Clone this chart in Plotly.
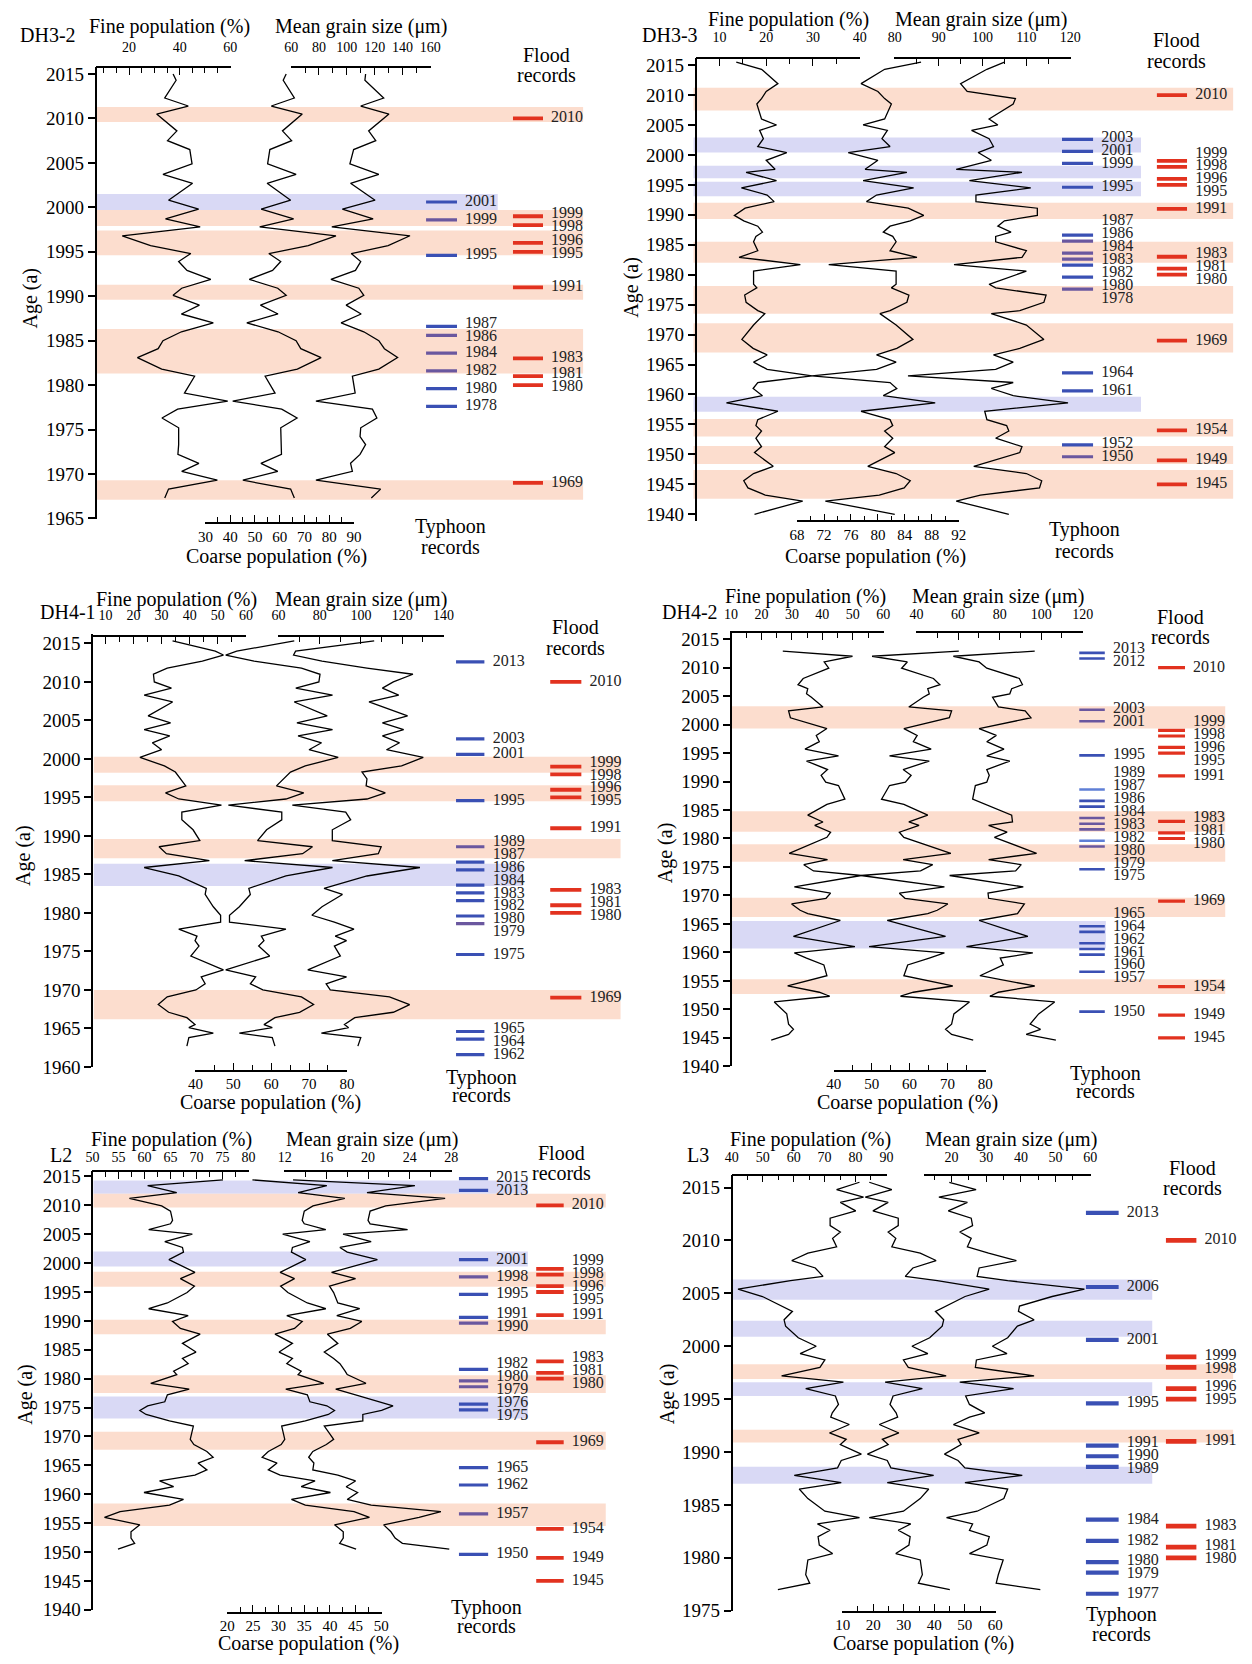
import plotly.graph_objects as go

W, H = 1252, 1664
FONT = "Liberation Serif, Times New Roman, serif"

# ---------------- DATA ----------------
# DH3-2
DH32_AGE = [2015.0, 2014.3, 2012.3, 2011.4, 2010.5, 2008.6, 2007.5, 2006.5, 2004.9, 2003.7,
            2002.7, 2000.8, 1999.8, 1998.7, 1997.8, 1996.8, 1995.7, 1994.8, 1993.9, 1992.9,
            1991.9, 1990.9, 1990.1, 1989.0, 1988.0, 1987.0, 1986.0, 1985.0, 1984.1, 1983.1,
            1981.8, 1981.0, 1979.1, 1978.2, 1977.3, 1976.3, 1975.2, 1974.2, 1973.3, 1972.2,
            1971.2, 1970.3, 1969.3, 1968.3, 1967.3]
DH32_FINE = [37.4, 38.6, 34.1, 43.4, 30.9, 38.9, 35.2, 44.0, 44.9, 33.4,
             45.1, 35.6, 47.5, 34.4, 48.1, 17.3, 28.5, 44.4, 39.6, 42.9,
             52.3, 40.8, 37.4, 47.8, 40.7, 53.3, 40.7, 33.4, 31.5, 23.3,
             32.9, 45.9, 41.9, 59.0, 39.2, 33.0, 39.6, 39.6, 39.6, 39.3,
             47.6, 40.8, 54.9, 35.6, 34.1]
DH32_COARSE = [62.6, 61.4, 65.9, 56.6, 69.1, 61.1, 64.8, 56.0, 55.1, 66.6,
               54.9, 64.4, 52.5, 65.6, 51.9, 82.7, 71.5, 55.6, 60.4, 57.1,
               47.7, 59.2, 62.6, 52.2, 59.3, 46.7, 59.3, 66.6, 68.5, 76.7,
               67.1, 54.1, 58.1, 41.0, 60.8, 67.0, 60.4, 60.4, 60.4, 60.7,
               52.4, 59.2, 45.1, 64.4, 65.9]
DH32_MGS = [113.5, 113.0, 126.5, 110.0, 130.3, 115.7, 120.8, 104.9, 102.2, 123.0,
            102.7, 120.3, 96.8, 118.9, 89.2, 145.4, 129.7, 103.2, 110.0, 106.2,
            88.6, 108.6, 112.2, 99.5, 110.3, 95.9, 112.2, 123.0, 127.0, 136.5,
            123.0, 104.0, 106.0, 77.8, 118.4, 121.6, 110.0, 109.5, 113.5, 109.5,
            102.7, 104.0, 77.8, 124.3, 117.6]
DH32_TY = [2001, 1999, 1995, 1987, 1986, 1984, 1982, 1980, 1978]
DH32_TYC = ["b", "p", "b", "b", "p", "p", "p", "b", "b"]
DH32_FL = [2010, 1999, 1998, 1996, 1995, 1991, 1983, 1981, 1980, 1969]
DH32_BANDS = [(2009.6, 2011.3, "o"), (1999.7, 2001.5, "b"), (1997.9, 1999.7, "o"),
              (1994.6, 1997.4, "o"), (1989.6, 1991.3, "o"), (1981.3, 1986.3, "o"),
              (1967.1, 1969.3, "o")]

# DH3-3
DH33_AGE = [2015.5, 2014.3, 2011.9, 2010.6, 2009.4, 2008.5, 2006.0, 2005.0, 2004.1, 2002.7,
            2001.4, 2000.4, 1999.1, 1997.6, 1997.1, 1995.7, 1994.5, 1993.3, 1992.2, 1991.1,
            1989.9, 1989.0, 1988.1, 1987.1, 1986.4, 1985.5, 1984.0, 1982.9, 1981.7, 1980.6,
            1978.4, 1977.8, 1976.6, 1975.4, 1974.0, 1973.5, 1971.6, 1969.2, 1967.7, 1966.6,
            1965.4, 1964.2, 1963.1, 1962.0, 1961.0, 1959.8, 1958.6, 1957.2, 1955.8, 1954.8,
            1953.9, 1952.7, 1951.3, 1950.3, 1948.0, 1946.8, 1945.6, 1944.4, 1943.2, 1942.2,
            1940.0]
DH33_FINE = [13.6, 19.0, 22.5, 20.0, 19.0, 18.0, 19.0, 22.2, 18.6, 19.4,
             18.2, 24.4, 20.0, 21.9, 15.7, 22.2, 14.7, 20.2, 21.7, 15.5,
             13.2, 15.2, 18.2, 19.2, 17.8, 17.3, 18.2, 14.2, 27.3, 17.3,
             17.3, 18.0, 15.4, 15.7, 18.2, 19.7, 17.3, 14.8, 17.2, 20.2,
             17.3, 20.2, 29.8, 18.2, 17.2, 19.2, 11.5, 22.5, 18.2, 17.8,
             19.0, 17.8, 19.0, 17.5, 21.5, 17.3, 15.2, 16.1, 19.8, 27.8,
             17.5]
DH33_COARSE = [86.4, 81.0, 77.5, 80.0, 81.0, 82.0, 81.0, 77.8, 81.4, 80.6,
               81.8, 75.6, 80.0, 78.1, 84.3, 77.8, 85.3, 79.8, 78.3, 84.5,
               86.8, 84.8, 81.8, 80.8, 82.2, 82.7, 81.8, 85.8, 72.7, 82.7,
               82.7, 82.0, 84.6, 84.3, 81.8, 80.3, 82.7, 85.2, 82.8, 79.8,
               82.7, 79.8, 70.2, 81.8, 82.8, 80.8, 88.5, 77.5, 81.8, 82.2,
               81.0, 82.2, 81.0, 82.5, 78.5, 82.7, 84.8, 83.9, 80.2, 72.2,
               82.5]
DH33_MGS = [105.0, 101.0, 95.0, 96.5, 107.5, 107.0, 101.5, 103.5, 97.5, 101.5,
            102.5, 99.0, 102.0, 94.0, 109.0, 97.0, 111.0, 98.5, 98.5, 112.5,
            112.5, 105.0, 103.5, 106.5, 103.0, 103.0, 110.0, 109.0, 93.5, 110.0,
            101.5, 103.0, 114.5, 114.0, 108.5, 102.0, 110.0, 114.0, 108.5, 102.5,
            107.0, 103.0, 83.0, 107.0, 102.0, 107.0, 119.5, 100.5, 101.0, 105.5,
            106.0, 103.0, 109.0, 108.5, 98.0, 110.0, 113.5, 113.0, 99.5, 94.0,
            106.0]
DH33_TY = [2003, 2001, 1999, 1995, 1987, 1986, 1984, 1983, 1982, 1980, 1978, 1964, 1961, 1952, 1950]
DH33_TYC = ["b", "b", "b", "b", "b", "p", "p", "p", "b", "b", "p", "b", "b", "b", "p"]
DH33_FL = [2010, 1999, 1998, 1996, 1995, 1991, 1983, 1981, 1980, 1969, 1954, 1949, 1945]
DH33_BANDS = [(2007.4, 2011.2, "o"), (2000.4, 2002.9, "b"), (1996.1, 1998.2, "b"),
              (1993.1, 1995.5, "b"), (1989.3, 1992.0, "o"), (1982.0, 1985.5, "o"),
              (1973.5, 1978.1, "o"), (1967.0, 1971.9, "o"), (1957.1, 1959.6, "b"),
              (1953.0, 1955.9, "o"), (1948.4, 1951.4, "o"), (1942.6, 1947.4, "o")]

# DH4-1
DH41_AGE = [2015.35, 2014.0, 2013.5, 2012.7, 2011.8, 2011.0, 2010.0, 2009.2, 2008.3, 2007.4,
            2005.6, 2004.7, 2003.8, 2003.0, 2002.1, 2001.2, 2000.2, 1999.1, 1998.3, 1997.4,
            1996.5, 1995.6, 1994.8, 1994.0, 1993.1, 1992.1, 1990.8, 1989.4, 1988.6, 1987.7,
            1986.8, 1985.9, 1984.8, 1983.2, 1982.4, 1980.8, 1979.7, 1978.8, 1977.9, 1977.0,
            1976.4, 1975.7, 1974.4, 1972.6, 1971.7, 1970.8, 1970.0, 1969.1, 1968.1, 1967.1,
            1966.4, 1965.5, 1965.1, 1964.4, 1963.8, 1962.7]
DH41_FINE = [33.9, 49.1, 52.0, 44.5, 32.0, 27.1, 27.4, 33.5, 23.8, 33.9,
             25.2, 33.2, 23.8, 32.9, 26.7, 30.0, 22.3, 31.0, 34.9, 36.8,
             38.6, 31.4, 36.1, 51.3, 37.2, 37.2, 41.2, 43.6, 29.1, 31.7,
             47.0, 23.8, 36.1, 45.9, 45.5, 48.4, 51.0, 51.0, 36.1, 42.6,
             41.9, 43.3, 40.4, 52.0, 44.1, 45.5, 42.2, 32.0, 28.8, 32.5,
             39.0, 41.9, 39.7, 48.4, 39.7, 39.0]
DH41_COARSE = [66.1, 50.9, 48.0, 55.5, 68.0, 72.9, 72.6, 66.5, 76.2, 66.1,
               74.8, 66.8, 76.2, 67.1, 73.3, 70.0, 77.7, 69.0, 65.1, 63.2,
               61.4, 68.6, 63.9, 48.7, 62.8, 62.8, 58.8, 56.4, 70.9, 68.3,
               53.0, 76.2, 63.9, 54.1, 54.5, 51.6, 49.0, 49.0, 63.9, 57.4,
               58.1, 56.7, 59.6, 48.0, 55.9, 54.5, 57.8, 68.0, 71.2, 67.5,
               61.0, 58.1, 60.3, 51.6, 60.3, 61.0]
DH41_MGS = [106.4, 68.3, 67.3, 81.1, 102.9, 125.2, 115.7, 110.4, 118.3, 103.9,
            122.6, 110.4, 120.7, 110.4, 118.7, 112.4, 130.2, 119.7, 100.5, 102.9,
            102.5, 111.8, 102.9, 66.7, 92.6, 95.0, 86.1, 86.1, 109.8, 108.4,
            86.1, 128.6, 102.9, 82.1, 91.0, 81.1, 76.2, 87.1, 96.6, 87.5,
            93.0, 87.1, 90.0, 74.2, 93.0, 83.1, 85.1, 113.8, 123.6, 115.7,
            97.0, 92.0, 94.0, 80.8, 99.9, 98.5]
DH41_TY = [2013, 2003, 2001, 1995, 1989, 1987, 1986, 1984, 1983, 1982, 1980, 1979, 1975, 1965, 1964, 1962]
DH41_TYC = ["b", "b", "b", "b", "p", "b", "b", "b", "b", "b", "b", "p", "b", "b", "b", "b"]
DH41_FL = [2010, 1999, 1998, 1996, 1995, 1991, 1983, 1981, 1980, 1969]
DH41_BANDS = [(1998.2, 2000.3, "o"), (1994.5, 1996.6, "o"), (1987.1, 1989.6, "o"),
              (1983.5, 1986.4, "b"), (1966.2, 1970.0, "o")]

# DH4-2
DH42_AGE = [2012.9, 2012.0, 2011.0, 2009.9, 2008.1, 2007.0, 2006.3, 2005.4, 2004.8, 2003.1,
            2002.4, 2001.2, 1999.3, 1998.1, 1997.0, 1995.7, 1994.5, 1993.6, 1992.1, 1991.1,
            1989.9, 1989.3, 1986.9, 1986.0, 1984.1, 1982.9, 1982.3, 1981.1, 1980.2, 1977.4,
            1976.3, 1975.4, 1974.3, 1973.5, 1971.5, 1970.4, 1969.5, 1968.5, 1967.4, 1966.8,
            1965.6, 1962.8, 1961.0, 1959.9, 1959.0, 1957.8, 1955.9, 1954.1, 1953.0, 1952.3,
            1951.3, 1949.2, 1947.4, 1946.5, 1945.6, 1944.6]
DH42_FINE = [27.0, 49.9, 40.6, 42.1, 33.7, 32.0, 35.2, 34.8, 36.4, 40.2,
             28.9, 29.5, 41.5, 38.0, 39.0, 34.3, 45.3, 34.8, 41.7, 39.6,
             41.1, 45.3, 47.4, 41.5, 35.2, 40.2, 37.5, 42.7, 41.5, 29.1,
             41.7, 33.9, 37.1, 52.8, 30.8, 42.7, 41.2, 29.9, 32.7, 35.2,
             45.9, 30.5, 50.7, 30.8, 34.8, 40.5, 41.5, 28.6, 39.0, 42.4,
             24.2, 28.3, 28.9, 30.5, 28.9, 23.2]
DH42_COARSE = [73.0, 50.1, 59.4, 57.9, 66.3, 68.0, 64.8, 65.2, 63.6, 59.8,
               71.1, 70.5, 58.5, 62.0, 61.0, 65.7, 54.7, 65.2, 58.3, 60.4,
               58.9, 54.7, 52.6, 58.5, 64.8, 59.8, 62.5, 57.3, 58.5, 70.9,
               58.3, 66.1, 62.9, 47.2, 69.2, 57.3, 58.8, 70.1, 67.3, 64.8,
               54.1, 69.5, 49.3, 69.2, 65.2, 59.5, 58.5, 71.4, 61.0, 57.6,
               75.8, 71.7, 71.1, 69.5, 71.1, 76.8]
DH42_MGS = [96.9, 57.7, 70.1, 73.8, 89.5, 91.0, 85.8, 84.9, 76.6, 79.4,
            92.3, 95.1, 70.1, 78.4, 73.8, 82.1, 73.8, 84.9, 73.8, 75.0,
            73.8, 68.3, 67.0, 72.9, 85.8, 86.2, 74.7, 83.6, 77.5, 97.8,
            74.7, 90.4, 87.7, 55.9, 91.4, 74.4, 74.7, 91.9, 89.5, 88.6,
            70.1, 93.6, 64.0, 96.0, 80.3, 81.8, 70.5, 96.9, 79.4, 75.3,
            106.5, 98.8, 94.7, 99.7, 92.8, 107.1]
DH42_TY = [2013, 2012, 2003, 2001, 1995, 1989, 1987, 1986, 1984, 1983, 1982, 1980, 1979, 1975,
           1965, 1964, 1962, 1961, 1960, 1957, 1950]
DH42_TYC = ["b", "b", "p", "p", "b", "l", "b", "b", "p", "p", "p", "l", "p", "b",
            "b", "b", "b", "b", "b", "b", "b"]
DH42_FL = [2010, 1999, 1998, 1996, 1995, 1991, 1983, 1981, 1980, 1969, 1954, 1949, 1945]
DH42_BANDS = [(1999.3, 2003.2, "o"), (1981.2, 1984.8, "o"), (1975.9, 1979.0, "o"),
              (1966.2, 1969.6, "o"), (1960.7, 1965.5, "b"), (1952.7, 1955.3, "o")]

# L2
L2_AGE = [2014.4, 2013.4, 2012.2, 2011.2, 2009.9, 2009.0, 2007.4, 2006.8, 2005.8, 2005.0,
          2003.7, 2002.7, 2001.9, 2000.6, 1998.4, 1997.3, 1996.0, 1994.9, 1993.1, 1992.1,
          1990.9, 1989.9, 1988.7, 1987.7, 1986.1, 1984.6, 1983.5, 1982.6, 1981.3, 1980.7,
          1979.2, 1978.2, 1977.2, 1976.0, 1975.3, 1974.5, 1973.8, 1972.7, 1971.8, 1969.5,
          1968.6, 1967.4, 1966.4, 1965.4, 1964.2, 1963.3, 1962.3, 1961.3, 1960.3, 1959.1,
          1958.1, 1957.0, 1956.0, 1954.7, 1953.5, 1952.4, 1951.5, 1950.5]
L2_FINE = [75.1, 60.6, 66.2, 57.1, 63.3, 65.0, 65.4, 65.0, 60.8, 69.2,
           63.9, 67.3, 67.5, 64.7, 69.7, 66.9, 69.6, 68.2, 64.4, 60.8,
           68.4, 65.4, 66.9, 70.7, 67.3, 69.9, 67.3, 68.4, 65.6, 66.2,
           61.2, 68.6, 64.4, 63.9, 60.6, 59.1, 60.3, 64.8, 69.4, 68.8,
           69.5, 72.0, 73.2, 70.3, 72.0, 69.7, 62.9, 65.6, 59.9, 67.5,
           64.8, 55.3, 52.3, 59.1, 57.4, 57.4, 58.1, 54.9]
L2_COARSE = [24.9, 39.4, 33.8, 42.9, 36.7, 35.0, 34.6, 35.0, 39.2, 30.8,
             36.1, 32.7, 32.5, 35.3, 30.3, 33.1, 30.4, 31.8, 35.6, 39.2,
             31.6, 34.6, 33.1, 29.3, 32.7, 30.1, 32.7, 31.6, 34.4, 33.8,
             38.8, 31.4, 35.6, 36.1, 39.4, 40.9, 39.7, 35.2, 30.6, 31.2,
             30.5, 28.0, 26.8, 29.7, 28.0, 30.3, 37.1, 34.4, 40.1, 32.5,
             35.2, 44.7, 47.7, 40.9, 42.6, 42.6, 41.9, 45.1]
L2_MGS = [12.8, 24.5, 19.9, 27.4, 21.7, 20.2, 20.0, 20.2, 23.8, 17.6,
          20.3, 17.3, 18.0, 20.9, 16.5, 18.8, 16.3, 16.7, 17.1, 19.2,
          17.0, 19.4, 18.3, 16.1, 17.1, 15.8, 16.7, 17.3, 17.8, 18.0,
          19.8, 16.9, 18.8, 21.1, 22.4, 21.3, 19.5, 19.5, 15.8, 16.7,
          16.0, 14.7, 14.3, 14.8, 14.7, 17.1, 18.8, 17.9, 19.0, 18.0,
          20.3, 27.0, 24.9, 21.5, 22.2, 22.6, 23.3, 27.8]
L2_TY = [2015, 2013, 2001, 1998, 1995, 1991, 1990, 1982, 1980, 1979, 1976, 1975, 1965, 1962, 1957, 1950]
L2_TYC = ["b", "b", "b", "p", "b", "b", "p", "b", "p", "p", "b", "b", "b", "b", "p", "b"]
L2_FL = [2010, 1999, 1998, 1996, 1995, 1991, 1983, 1981, 1980, 1969, 1954, 1949, 1945]
L2_BANDS = [(2012.0, 2014.3, "b"), (2009.6, 2012.0, "o"), (1999.4, 2002.0, "b"),
            (1995.9, 1998.5, "o"), (1987.7, 1990.2, "o"), (1977.5, 1980.6, "o"),
            (1973.1, 1976.9, "b"), (1967.7, 1970.8, "o"), (1954.5, 1958.4, "o")]

# L3
L3_AGE = [2015.5, 2014.8, 2014.1, 2013.6, 2012.8, 2012.1, 2011.4, 2010.8, 2010.2, 2009.4,
          2008.8, 2008.1, 2007.4, 2006.6, 2006.2, 2005.4, 2004.7, 2003.8, 2003.3, 2002.5,
          2001.9, 2000.8, 2000.0, 1999.3, 1998.7, 1998.0, 1997.2, 1996.6, 1996.0, 1995.3,
          1994.5, 1993.7, 1993.3, 1992.6, 1991.8, 1991.2, 1990.7, 1989.8, 1989.2, 1988.5,
          1987.8, 1987.1, 1986.5, 1985.6, 1984.4, 1983.8, 1983.2, 1982.6, 1982.0, 1981.2,
          1980.4, 1979.8, 1978.4, 1977.6, 1977.0]
L3_FINE = [81.3, 73.9, 82.6, 75.1, 80.1, 71.8, 71.8, 75.1, 72.6, 73.9,
           64.6, 59.4, 67.0, 69.5, 59.0, 42.0, 49.9, 56.5, 59.6, 56.9,
           57.4, 61.5, 67.3, 62.1, 70.1, 68.5, 56.1, 76.1, 63.9, 73.5,
           74.5, 72.5, 72.0, 78.0, 71.6, 77.0, 75.1, 81.9, 75.4, 74.2,
           60.2, 75.4, 61.8, 64.6, 70.1, 81.3, 67.7, 71.8, 67.9, 68.3,
           72.6, 64.6, 63.9, 65.2, 54.9]
L3_COARSE = [18.7, 26.1, 17.4, 24.9, 19.9, 28.2, 28.2, 24.9, 27.4, 26.1,
             35.4, 40.6, 33.0, 30.5, 41.0, 58.0, 50.1, 43.5, 40.4, 43.1,
             42.6, 38.5, 32.7, 37.9, 29.9, 31.5, 43.9, 23.9, 36.1, 26.5,
             25.5, 27.5, 28.0, 22.0, 28.4, 23.0, 24.9, 18.1, 24.6, 25.8,
             39.8, 24.6, 38.2, 35.4, 29.9, 18.7, 32.3, 28.2, 32.1, 31.7,
             27.4, 35.4, 36.1, 34.8, 45.1]
L3_MGS = [19.4, 27.1, 16.4, 24.6, 19.1, 25.7, 26.1, 22.4, 25.7, 24.6,
          30.7, 38.7, 28.0, 27.4, 36.2, 58.3, 49.0, 39.6, 39.3, 43.8,
          39.0, 36.2, 31.8, 36.0, 27.2, 26.9, 43.8, 22.4, 37.9, 24.1,
          25.2, 29.6, 25.2, 20.6, 28.0, 21.9, 22.8, 18.0, 21.9, 23.9,
          40.4, 23.9, 36.2, 35.1, 27.4, 18.6, 26.1, 25.2, 30.9, 30.2,
          25.2, 34.9, 33.5, 32.9, 45.6]
L3_TY = [2013, 2006, 2001, 1995, 1991, 1990, 1989, 1984, 1982, 1980, 1979, 1977]
L3_TYC = ["b"] * 12
L3_FL = [2010, 1999, 1998, 1996, 1995, 1991, 1983, 1981, 1980]
L3_BANDS = [(2004.4, 2006.3, "b"), (2000.9, 2002.4, "b"), (1996.9, 1998.3, "o"),
            (1995.3, 1996.6, "b"), (1990.9, 1992.1, "o"), (1987.0, 1988.6, "b")]

# ---------------- STYLE / LAYOUT ----------------
TY_COLORS = {"b": "#3a50b4", "p": "#6a579f", "l": "#5f7fd6"}
FLOOD_COLOR = "#e2321f"
BAND_COLORS = {"o": "rgba(252,215,197,0.85)", "b": "rgba(215,215,244,0.95)"}
TY_OFFSET = -0.4
LABEL_GAP_PX = 13.0
LABEL_SIZE = 16
PAD = "\u00a0\u00a0"

PANELS = [
    dict(name="DH3-2", age=DH32_AGE, fine=DH32_FINE, coarse=DH32_COARSE, mgs=DH32_MGS,
         ty=DH32_TY, tyc=DH32_TYC, fl=DH32_FL, bands=DH32_BANDS,
         yx=89.9, ytop=62.5, ybot=518.6, yr=[1965, 2015.8], tso=9,
         fineax=dict(dom=[89.9, 226.6], rng=[6.9, 60], dt=20, mn=5, pos=63),
         mgsax=dict(dom=[287.8, 429.4], rng=[60, 160], dt=20, mn=10, pos=63),
         coarseax=dict(dom=[200.9, 352.1], rng=[30, 90], dt=10, mn=5, pos=523),
         tycol=[424.8, 456.2], flcol=[512.8, 543.4], mw=3.2,
         bx0=90, ox1=584, bx1=497.5,
         name_t=(11.5, 30.4), fine_t=(164.6, 22), mgs_t=(359, 22), coarse_t=(273.6, 557),
         age_t=(23.7, 296), flood_t=(547, 50, 71), typh_t=(449.7, 527, 547)),
    dict(name="DH3-3", age=DH33_AGE, fine=DH33_FINE, coarse=DH33_COARSE, mgs=DH33_MGS,
         ty=DH33_TY, tyc=DH33_TYC, fl=DH33_FL, bands=DH33_BANDS,
         yx=698.2, ytop=53.6, ybot=521.4, yr=[1938.83, 2016.17], tso=10,
         fineax=dict(dom=[698.2, 864.8], rng=[5, 40], dt=10, mn=5, pos=54),
         mgsax=dict(dom=[899.7, 1078.2], rng=[80, 120], dt=10, mn=5, pos=54),
         coarseax=dict(dom=[800.6, 965.2], rng=[68, 92], dt=4, mn=2, pos=521.4),
         tycol=[1069.5, 1101.2], flcol=[1165.5, 1196.4], mw=3.2,
         bx0=696, ox1=1243, bx1=1149.6,
         name_t=(642, 30.4), fine_t=(792.6, 15), mgs_t=(987, 15), coarse_t=(880, 557),
         age_t=(633, 285), flood_t=(1185.3, 35.7, 57), typh_t=(1092, 530, 551)),
    dict(name="DH4-1", age=DH41_AGE, fine=DH41_FINE, coarse=DH41_COARSE, mgs=DH41_MGS,
         ty=DH41_TY, tyc=DH41_TYC, fl=DH41_FL, bands=DH41_BANDS,
         yx=86.2, ytop=635.1, ybot=1072.4, yr=[1960, 2016.23], tso=9,
         fineax=dict(dom=[86.2, 242.5], rng=[5.35, 60], dt=10, mn=5, pos=637),
         mgsax=dict(dom=[274.9, 442.8], rng=[60, 140], dt=20, mn=10, pos=637),
         coarseax=dict(dom=[190.7, 344.9], rng=[40, 80], dt=10, mn=5, pos=1075.9),
         tycol=[455.2, 484.2], flcol=[550.6, 582.5], mw=3.2,
         bx0=88, ox1=622, bx1=523,
         name_t=(31, 612.7), fine_t=(172, 600.5), mgs_t=(358.6, 600.5), coarse_t=(267.4, 1108),
         age_t=(17.4, 859), flood_t=(576, 628, 649), typh_t=(481, 1083, 1101)),
    dict(name="DH4-2", age=DH42_AGE, fine=DH42_FINE, coarse=DH42_COARSE, mgs=DH42_MGS,
         ty=DH42_TY, tyc=DH42_TYC, fl=DH42_FL, bands=DH42_BANDS,
         yx=733.7, ytop=631.7, ybot=1071.7, yr=[1940, 2016.5], tso=7,
         fineax=dict(dom=[733.7, 888.6], rng=[10, 60], dt=10, mn=5, pos=633.4),
         mgsax=dict(dom=[921.8, 1090.8], rng=[40, 120], dt=20, mn=10, pos=633.4),
         coarseax=dict(dom=[837.9, 992.1], rng=[40, 80], dt=10, mn=5, pos=1075.9),
         tycol=[1086.9, 1113], flcol=[1166.9, 1194.3], mw=2.6,
         bx0=733, ox1=1235, bx1=1114,
         name_t=(661.5, 612.7), fine_t=(809.8, 597), mgs_t=(1005, 597), coarse_t=(913, 1108.5),
         age_t=(667, 855.5), flood_t=(1190, 618, 638.5), typh_t=(1114, 1079, 1097)),
    dict(name="L2", age=L2_AGE, fine=L2_FINE, coarse=L2_COARSE, mgs=L2_MGS,
         ty=L2_TY, tyc=L2_TYC, fl=L2_FL, bands=L2_BANDS,
         yx=86.4, ytop=1177.7, ybot=1620.5, yr=[1940, 2015.87], tso=3,
         fineax=dict(dom=[86.4, 245.1], rng=[50, 80], dt=5, mn=2.5, pos=1177.7),
         mgsax=dict(dom=[281.2, 450.8], rng=[12, 28], dt=4, mn=2, pos=1177.7),
         coarseax=dict(dom=[223, 379.7], rng=[20, 50], dt=5, mn=2.5, pos=1623.2),
         tycol=[458, 488], flcol=[536.4, 564.5], mw=3.2,
         bx0=87.6, ox1=607, bx1=528,
         name_t=(42, 1160.7), fine_t=(166.7, 1146), mgs_t=(369.6, 1146), coarse_t=(305.3, 1654.5),
         age_t=(18, 1402.5), flood_t=(562.5, 1159, 1179.4), typh_t=(486, 1617.7, 1637)),
    dict(name="L3", age=L3_AGE, fine=L3_FINE, coarse=L3_COARSE, mgs=L3_MGS,
         ty=L3_TY, tyc=L3_TYC, fl=L3_FL, bands=L3_BANDS,
         yx=734.5, ytop=1181.1, ybot=1621.5, yr=[1975, 2016.21], tso=6,
         fineax=dict(dom=[734.5, 891.8], rng=[40, 90], dt=10, mn=5, pos=1181),
         mgsax=dict(dom=[929.6, 1098.6], rng=[12.2, 60], dt=10, mn=5, pos=1181),
         coarseax=dict(dom=[846.9, 1002.2], rng=[10, 60], dt=10, mn=5, pos=1622.2),
         tycol=[1093.6, 1127.1], flcol=[1174.7, 1206], mw=4.2,
         bx0=735.6, ox1=1243, bx1=1161,
         name_t=(687, 1160.7), fine_t=(814.9, 1146), mgs_t=(1017.8, 1146), coarse_t=(928.8, 1654.5),
         age_t=(669.3, 1402.5), flood_t=(1202, 1174, 1194.7), typh_t=(1130, 1625.6, 1644.5)),
]


def px(x):
    return x / W


def py(y):
    return 1 - y / H


def spread(vals, gap):
    idx = sorted(range(len(vals)), key=lambda i: vals[i])
    pos = [vals[i] for i in idx]
    for _ in range(400):
        moved = False
        for k in range(len(pos) - 1):
            d = pos[k + 1] - pos[k]
            if d < gap - 1e-9:
                s = (gap - d) / 2
                pos[k] -= s
                pos[k + 1] += s
                moved = True
        if not moved:
            break
    out = [0] * len(vals)
    for j, i in enumerate(idx):
        out[i] = pos[j]
    return out


def eps_range(r):
    e = (r[1] - r[0]) * 0.002
    return [r[0] - e, r[1] + e]


fig = go.Figure()
layout = dict(width=W, height=H, margin=dict(l=0, r=0, t=0, b=0),
              paper_bgcolor="white", plot_bgcolor="rgba(0,0,0,0)",
              showlegend=False, font=dict(family=FONT, color="black"))
shapes, annotations = [], []

xid = 0
for i, P in enumerate(PANELS):
    yid = i + 1
    ykey = "yaxis" if yid == 1 else f"yaxis{yid}"
    yref = "y" if yid == 1 else f"y{yid}"
    layout[ykey] = dict(domain=[py(P["ybot"]), py(P["ytop"])],
                        range=[P["yr"][0] - 0.02, P["yr"][1]],
                        anchor="free", position=px(P["yx"]),
                        showline=True, linecolor="black", linewidth=1.6,
                        ticks="outside", ticklen=7, tickwidth=1.5, tickcolor="black",
                        dtick=5, tick0=0, tickfont=dict(family=FONT, size=19, color="black"),
                        showgrid=False, zeroline=False, fixedrange=True)

    def add_xaxis(spec, side, standoff):
        global xid
        xid += 1
        key = "xaxis" if xid == 1 else f"xaxis{xid}"
        layout[key] = dict(domain=[px(spec["dom"][0]), px(spec["dom"][1])],
                           range=eps_range(spec["rng"]), anchor="free",
                           position=py(spec["pos"]), side=side,
                           showline=True, linecolor="black", linewidth=1.6,
                           ticks="inside", ticklen=7, tickwidth=1.3, tickcolor="black",
                           dtick=spec["dt"], tick0=0,
                           ticklabelstandoff=standoff,
                           minor=dict(dtick=spec["mn"], tick0=0, ticks="inside", ticklen=5,
                                      tickwidth=1.2, tickcolor="black"),
                           tickfont=dict(family=FONT, size=14 if side == "top" else 15, color="black"),
                           showgrid=False, zeroline=False, fixedrange=True)
        return "x" if xid == 1 else f"x{xid}"

    def add_hidden(col):
        global xid
        xid += 1
        key = f"xaxis{xid}"
        layout[key] = dict(domain=[px(col[0]), px(col[1])], range=[0, 1], visible=False,
                           anchor="free", position=0, fixedrange=True)
        return f"x{xid}"

    xf = add_xaxis(P["fineax"], "top", P["tso"])
    xm = add_xaxis(P["mgsax"], "top", P["tso"])
    xc = add_xaxis(P["coarseax"], "bottom", 0)
    xt = add_hidden(P["tycol"])
    xfl = add_hidden(P["flcol"])

    line = dict(color="black", width=1.3)
    for xa, vals in ((xf, P["fine"]), (xc, P["coarse"]), (xm, P["mgs"])):
        fig.add_trace(go.Scatter(x=vals, y=P["age"], xaxis=xa, yaxis=yref, mode="lines",
                                 line=line, hoverinfo="skip", showlegend=False))

    # shaded bands
    for (b0, b1, kind) in P["bands"]:
        shapes.append(dict(type="rect", xref="paper", yref=yref,
                           x0=px(P["bx0"]), x1=px(P["ox1"] if kind == "o" else P["bx1"]),
                           y0=b0, y1=b1, fillcolor=BAND_COLORS[kind], line=dict(width=0),
                           layer="below"))

    pxpy = (P["ybot"] - P["ytop"]) / (P["yr"][1] - P["yr"][0])
    gap = LABEL_GAP_PX / pxpy

    # typhoon records
    ty_pos = [y + TY_OFFSET for y in P["ty"]]
    for c in sorted(set(P["tyc"])):
        xs, ys = [], []
        for y, cc in zip(ty_pos, P["tyc"]):
            if cc == c:
                xs += [0, 1, None]
                ys += [y, y, None]
        fig.add_trace(go.Scatter(x=xs, y=ys, xaxis=xt, yaxis=yref, mode="lines",
                                 line=dict(color=TY_COLORS[c], width=P["mw"]),
                                 hoverinfo="skip", showlegend=False))
    fig.add_trace(go.Scatter(x=[1] * len(P["ty"]), y=spread(ty_pos, gap), xaxis=xt, yaxis=yref,
                             mode="text", text=[PAD + str(y) for y in P["ty"]],
                             textposition="middle right", cliponaxis=False,
                             textfont=dict(family=FONT, size=LABEL_SIZE, color="#222222"),
                             hoverinfo="skip", showlegend=False))
    # flood records
    xs, ys = [], []
    for y in P["fl"]:
        xs += [0, 1, None]
        ys += [y, y, None]
    fig.add_trace(go.Scatter(x=xs, y=ys, xaxis=xfl, yaxis=yref, mode="lines",
                             line=dict(color=FLOOD_COLOR, width=P["mw"] + 0.6),
                             hoverinfo="skip", showlegend=False))
    fig.add_trace(go.Scatter(x=[1] * len(P["fl"]), y=spread(list(P["fl"]), gap), xaxis=xfl,
                             yaxis=yref, mode="text", text=[PAD + str(y) for y in P["fl"]],
                             textposition="middle right", cliponaxis=False,
                             textfont=dict(family=FONT, size=LABEL_SIZE, color="#222222"),
                             hoverinfo="skip", showlegend=False))

    def ann(x, y, text, size=20, xanchor="center", angle=0):
        annotations.append(dict(x=px(x), y=py(y), xref="paper", yref="paper", text=text,
                                showarrow=False, xanchor=xanchor, yanchor="middle",
                                textangle=angle, font=dict(family=FONT, size=size, color="black")))

    ann(P["name_t"][0], P["name_t"][1], P["name"], xanchor="left")
    ann(*P["fine_t"], "Fine population (%)")
    ann(*P["mgs_t"], "Mean grain size (μm)")
    ann(*P["coarse_t"], "Coarse population (%)")
    ann(P["age_t"][0], P["age_t"][1], "Age (a)", angle=-90)
    ann(P["flood_t"][0], P["flood_t"][1], "Flood")
    ann(P["flood_t"][0], P["flood_t"][2], "records")
    ann(P["typh_t"][0], P["typh_t"][1], "Typhoon")
    ann(P["typh_t"][0], P["typh_t"][2], "records")

layout["shapes"] = shapes
layout["annotations"] = annotations
fig.update_layout(**layout)
fig.write_html("out.html")
